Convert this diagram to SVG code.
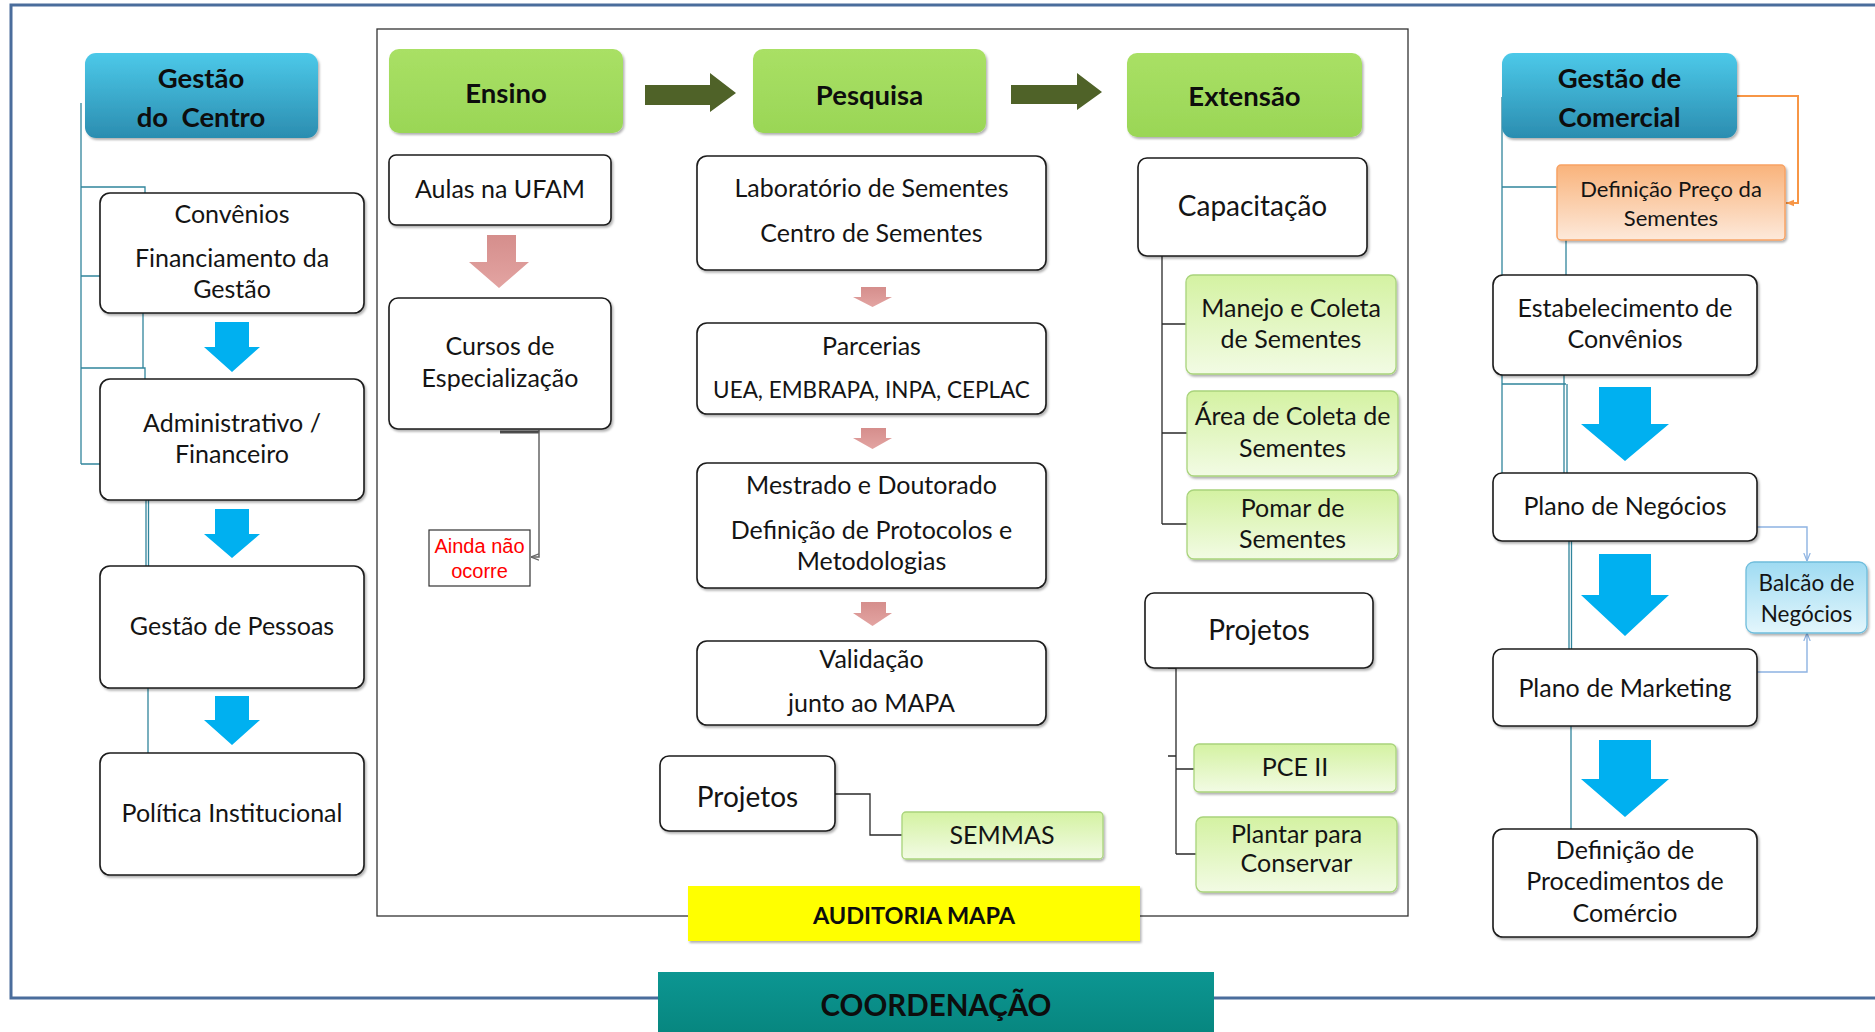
<svg xmlns="http://www.w3.org/2000/svg" width="1875" height="1032" viewBox="0 0 1875 1032">
<defs>
<style>
.n{fill:#fff;stroke:#1a1a1a;stroke-width:1.6}
.t{font-family:Lato,'Liberation Sans',sans-serif;font-size:25px;fill:#141414;text-anchor:middle}
.b{font-weight:bold;font-size:27.5px;fill:#0d0d0d}
.l{font-size:28px}
.c{fill:none;stroke:#31859c;stroke-width:1.3}
.k{fill:none;stroke:#2a2a2a;stroke-width:1.3}
.bl{fill:#00b0f0}
.pk{fill:url(#gPink)}
.ol{fill:#4f6228}
.lg{fill:url(#gLight);stroke:#a9d47c;stroke-width:1.3}
</style>
<linearGradient id="gCyan" x1="0" y1="0" x2="0" y2="1"><stop offset="0" stop-color="#4cc9e9"/><stop offset="1" stop-color="#2b8db0"/></linearGradient>
<linearGradient id="gGreen" x1="0" y1="0" x2="0" y2="1"><stop offset="0" stop-color="#a9e065"/><stop offset="1" stop-color="#9ad656"/></linearGradient>
<linearGradient id="gLight" x1="0" y1="0" x2="0" y2="1"><stop offset="0" stop-color="#d4f2a2"/><stop offset="1" stop-color="#f2fbe4"/></linearGradient>
<linearGradient id="gPink" x1="0" y1="0" x2="0" y2="1"><stop offset="0" stop-color="#d58e8c"/><stop offset="1" stop-color="#e3a4a2"/></linearGradient>
<linearGradient id="gOrange" x1="0" y1="0" x2="0" y2="1"><stop offset="0" stop-color="#f9b37b"/><stop offset="1" stop-color="#fde9da"/></linearGradient>
<linearGradient id="gBalcao" x1="0" y1="0" x2="0" y2="1"><stop offset="0" stop-color="#9fdbf2"/><stop offset="1" stop-color="#e3f6fc"/></linearGradient>
<linearGradient id="gTeal" x1="0" y1="0" x2="0" y2="1"><stop offset="0" stop-color="#0c9692"/><stop offset="1" stop-color="#07867f"/></linearGradient>
<filter id="sh" x="-5%" y="-10%" width="115%" height="130%"><feDropShadow dx="1.5" dy="2" stdDeviation="1.2" flood-color="#000" flood-opacity="0.3"/></filter>
<marker id="mGray" viewBox="0 0 10 10" refX="10" refY="5" markerWidth="8" markerHeight="8" orient="auto" markerUnits="userSpaceOnUse"><path d="M0,1 L10,5 L0,9" fill="none" stroke="#666" stroke-width="1.5"/></marker>
<marker id="mBlue" viewBox="0 0 10 10" refX="10" refY="5" markerWidth="8" markerHeight="8" orient="auto" markerUnits="userSpaceOnUse"><path d="M0,1 L10,5 L0,9" fill="none" stroke="#8db3e2" stroke-width="1.5"/></marker>
<marker id="mOrange" viewBox="0 0 10 10" refX="10" refY="5" markerWidth="8" markerHeight="8" orient="auto" markerUnits="userSpaceOnUse"><path d="M0,1 L10,5 L0,9 Z" fill="#f79646"/></marker>
</defs>

<rect width="1875" height="1032" fill="#fff"/>

<g id="frames">
<path d="M1880 5 H11 V998 H1880" fill="none" stroke="#4a6d9c" stroke-width="3"/>
<rect x="377" y="29" width="1031" height="887" fill="none" stroke="#333" stroke-width="1.3"/>
</g>

<g id="connectors">
<path class="c" d="M81 103 V464 M81 187 H145 V193 M81 276 H100 M81 368 H145 V379 M81 464 H100 M143 313 V368 M146 500 V566 M148.5 500 V566 M148 688 V753"/>
<path class="c" d="M1502 97 V473 M1502 187 H1557 M1502 384 H1566 M1566 240 V275 M1564 375 V473 M1567 384 V473 M1569 541 V649 M1571.5 541 V649 M1571 726 V829"/>
<path d="M500 432 H539" stroke="#555" stroke-width="3"/>
<path d="M539 430 V557 H531" fill="none" stroke="#666" stroke-width="1.5" marker-end="url(#mGray)"/>
<path class="k" d="M835 794 H870 V835 H902"/>
<path class="k" d="M1162 256 V524 M1162 324 H1186 M1162 433 H1187 M1162 524 H1187"/>
<path class="k" d="M1176 668 V854 M1168 668 H1176 M1168 756 H1176 M1176 769 H1194 M1176 854 H1196"/>
<path d="M1737 96 H1798 V203 H1786" fill="none" stroke="#f79646" stroke-width="2" marker-end="url(#mOrange)"/>
<path d="M1754 507 V527 H1807 V561" fill="none" stroke="#8db3e2" stroke-width="1.4" marker-end="url(#mBlue)"/>
<path d="M1754 700 V672 H1807 V633" fill="none" stroke="#8db3e2" stroke-width="1.4" marker-end="url(#mBlue)"/>
<polygon class="bl" points="215,322 249,322 249,347 260,347 232,372 204,347 215,347"/>
<polygon class="bl" points="215,509 249,509 249,534 260,534 232,558 204,534 215,534"/>
<polygon class="bl" points="215,696 249,696 249,720 260,720 232,745 204,720 215,720"/>
<polygon class="bl" points="1599,387 1651,387 1651,424 1669,424 1625,461 1581,424 1599,424"/>
<polygon class="bl" points="1599,554 1651,554 1651,595 1669,595 1625,636 1581,595 1599,595"/>
<polygon class="bl" points="1599,740 1651,740 1651,779 1669,779 1625,817 1581,779 1599,779"/>
<polygon class="pk" points="487,235 516,235 516,262 529,262 499,288 469,262 487,262"/>
<polygon class="pk" points="861,287 886,287 886,297 892,297 872.5,307 853,297 861,297"/>
<polygon class="pk" points="861,428 886,428 886,438 892,438 872.5,449 853,438 861,438"/>
<polygon class="pk" points="861,602 886,602 886,613 892,613 872.5,626 853,613 861,613"/>
<polygon class="ol" points="645,85 710,85 710,73 736,93 710,112 710,105 645,105"/>
<polygon class="ol" points="1011,85 1077,85 1077,73 1102,92 1077,110 1077,104 1011,104"/>
</g>

<g id="gestao-centro">
<rect x="85" y="53" width="233" height="85" rx="11" fill="url(#gCyan)" filter="url(#sh)"/>
<text class="t b" x="201" y="88">Gestão</text>
<text class="t b" x="201" y="127" style="white-space:pre">do  Centro</text>
</g>
<g id="convenios">
<rect class="n" x="100" y="193" width="264" height="120" rx="10" filter="url(#sh)"/>
<text class="t" x="232" y="223">Convênios</text>
<text class="t" x="232" y="267">Financiamento da</text>
<text class="t" x="232" y="298">Gestão</text>
</g>
<g id="administrativo">
<rect class="n" x="100" y="379" width="264" height="121" rx="10" filter="url(#sh)"/>
<text class="t" x="232" y="432">Administrativo /</text>
<text class="t" x="232" y="463">Financeiro</text>
</g>
<g id="gestao-pessoas">
<rect class="n" x="100" y="566" width="264" height="122" rx="10" filter="url(#sh)"/>
<text class="t" x="232" y="635">Gestão de Pessoas</text>
</g>
<g id="politica">
<rect class="n" x="100" y="753" width="264" height="122" rx="10" filter="url(#sh)"/>
<text class="t" x="232" y="822">Política Institucional</text>
</g>

<g id="ensino">
<rect x="389" y="49" width="234" height="84" rx="10" fill="url(#gGreen)" filter="url(#sh)"/>
<text class="t b" x="506" y="103">Ensino</text>
</g>
<g id="pesquisa">
<rect x="753" y="49" width="233" height="84" rx="10" fill="url(#gGreen)" filter="url(#sh)"/>
<text class="t b" x="869.5" y="105">Pesquisa</text>
</g>
<g id="extensao">
<rect x="1127" y="53" width="235" height="84" rx="10" fill="url(#gGreen)" filter="url(#sh)"/>
<text class="t b" x="1244.5" y="106">Extensão</text>
</g>

<g id="aulas-ufam">
<rect class="n" x="389" y="155" width="222" height="70" rx="7" filter="url(#sh)"/>
<text class="t" x="500" y="198">Aulas na UFAM</text>
</g>
<g id="cursos">
<rect class="n" x="389" y="298" width="222" height="131" rx="9" filter="url(#sh)"/>
<text class="t" x="500" y="355">Cursos de</text>
<text class="t" x="500" y="387">Especialização</text>
</g>
<g id="ainda-nao-ocorre">
<rect x="429" y="530" width="101" height="56" fill="#fff" stroke="#333" stroke-width="1.2"/>
<text x="479.5" y="553" font-family="'Liberation Sans',Arial,sans-serif" font-size="20" fill="#ff0000" text-anchor="middle">Ainda não</text>
<text x="479.5" y="578" font-family="'Liberation Sans',Arial,sans-serif" font-size="20" fill="#ff0000" text-anchor="middle">ocorre</text>
</g>

<g id="laboratorio">
<rect class="n" x="697" y="156" width="349" height="114" rx="10" filter="url(#sh)"/>
<text class="t" x="871.5" y="197">Laboratório de Sementes</text>
<text class="t" x="871.5" y="242">Centro de Sementes</text>
</g>
<g id="parcerias">
<rect class="n" x="697" y="323" width="349" height="91" rx="10" filter="url(#sh)"/>
<text class="t" x="871.5" y="355">Parcerias</text>
<text class="t" x="871.5" y="398" style="font-size:22.5px">UEA, EMBRAPA, INPA, CEPLAC</text>
</g>
<g id="mestrado">
<rect class="n" x="697" y="463" width="349" height="125" rx="10" filter="url(#sh)"/>
<text class="t" x="871.5" y="494">Mestrado e Doutorado</text>
<text class="t" x="871.5" y="539">Definição de Protocolos e</text>
<text class="t" x="871.5" y="570">Metodologias</text>
</g>
<g id="validacao">
<rect class="n" x="697" y="641" width="349" height="84" rx="10" filter="url(#sh)"/>
<text class="t" x="871.5" y="668">Validação</text>
<text class="t" x="871.5" y="712">junto ao MAPA</text>
</g>
<g id="projetos-pesquisa">
<rect class="n" x="660" y="756" width="175" height="75" rx="9" stroke-width="1.3" filter="url(#sh)"/>
<text class="t l" x="747.5" y="807">Projetos</text>
</g>
<g id="semmas">
<rect class="lg" x="902" y="812" width="201" height="47" rx="4" filter="url(#sh)"/>
<text class="t" x="1002" y="844">SEMMAS</text>
</g>
<g id="auditoria-mapa">
<rect x="688" y="886" width="452" height="55" fill="#ffff00" filter="url(#sh)"/>
<text class="t b" x="914" y="924" style="font-size:23.5px">AUDITORIA MAPA</text>
</g>
<g id="coordenacao">
<rect x="658" y="972" width="556" height="62" fill="url(#gTeal)"/>
<text class="t b" x="936" y="1016" style="font-size:29.5px">COORDENAÇÃO</text>
</g>

<g id="capacitacao">
<rect class="n" x="1138" y="158" width="229" height="98" rx="9" stroke-width="1.3" filter="url(#sh)"/>
<text class="t l" x="1252.5" y="216">Capacitação</text>
</g>
<g id="manejo">
<rect class="lg" x="1186" y="275" width="210" height="99" rx="7" filter="url(#sh)"/>
<text class="t" x="1291" y="317">Manejo e Coleta</text>
<text class="t" x="1291" y="348">de Sementes</text>
</g>
<g id="area-coleta">
<rect class="lg" x="1187" y="391" width="211" height="85" rx="7" filter="url(#sh)"/>
<text class="t" x="1292.5" y="425">Área de Coleta de</text>
<text class="t" x="1292.5" y="457">Sementes</text>
</g>
<g id="pomar">
<rect class="lg" x="1187" y="490" width="211" height="69" rx="7" filter="url(#sh)"/>
<text class="t" x="1292.5" y="517">Pomar de</text>
<text class="t" x="1292.5" y="548">Sementes</text>
</g>
<g id="projetos-extensao">
<rect class="n" x="1145" y="593" width="228" height="75" rx="9" stroke-width="1.3" filter="url(#sh)"/>
<text class="t l" x="1259" y="640">Projetos</text>
</g>
<g id="pce-ii">
<rect class="lg" x="1194" y="744" width="202" height="48" rx="5" filter="url(#sh)"/>
<text class="t" x="1295" y="776">PCE II</text>
</g>
<g id="plantar">
<rect class="lg" x="1196" y="817" width="201" height="75" rx="7" filter="url(#sh)"/>
<text class="t" x="1296.5" y="843">Plantar para</text>
<text class="t" x="1296.5" y="872">Conservar</text>
</g>

<g id="gestao-comercial">
<rect x="1502" y="53" width="235" height="85" rx="11" fill="url(#gCyan)" filter="url(#sh)"/>
<text class="t b" x="1619.5" y="88">Gestão de</text>
<text class="t b" x="1619.5" y="127">Comercial</text>
</g>
<g id="definicao-preco">
<rect x="1557" y="165" width="228" height="75" rx="4" fill="url(#gOrange)" stroke="#f7a264" stroke-width="1.5" filter="url(#sh)"/>
<text class="t" x="1671" y="197" style="font-size:22px">Definição Preço da</text>
<text class="t" x="1671" y="226" style="font-size:22px">Sementes</text>
</g>
<g id="estabelecimento">
<rect class="n" x="1493" y="275" width="264" height="100" rx="10" filter="url(#sh)"/>
<text class="t" x="1625" y="317">Estabelecimento de</text>
<text class="t" x="1625" y="348">Convênios</text>
</g>
<g id="plano-negocios">
<rect class="n" x="1493" y="473" width="264" height="68" rx="9" filter="url(#sh)"/>
<text class="t" x="1625" y="515">Plano de Negócios</text>
</g>
<g id="plano-marketing">
<rect class="n" x="1493" y="649" width="264" height="77" rx="9" filter="url(#sh)"/>
<text class="t" x="1625" y="697">Plano de Marketing</text>
</g>
<g id="procedimentos-comercio">
<rect class="n" x="1493" y="829" width="264" height="108" rx="10" filter="url(#sh)"/>
<text class="t" x="1625" y="859">Definição de</text>
<text class="t" x="1625" y="890">Procedimentos de</text>
<text class="t" x="1625" y="922">Comércio</text>
</g>
<g id="balcao-negocios">
<rect x="1746" y="562" width="121" height="71" rx="8" fill="url(#gBalcao)" stroke="#6fbddc" stroke-width="1.3" filter="url(#sh)"/>
<text class="t" x="1806.5" y="591" style="font-size:22.5px">Balcão de</text>
<text class="t" x="1806.5" y="622" style="font-size:22.5px">Negócios</text>
</g>
</svg>
